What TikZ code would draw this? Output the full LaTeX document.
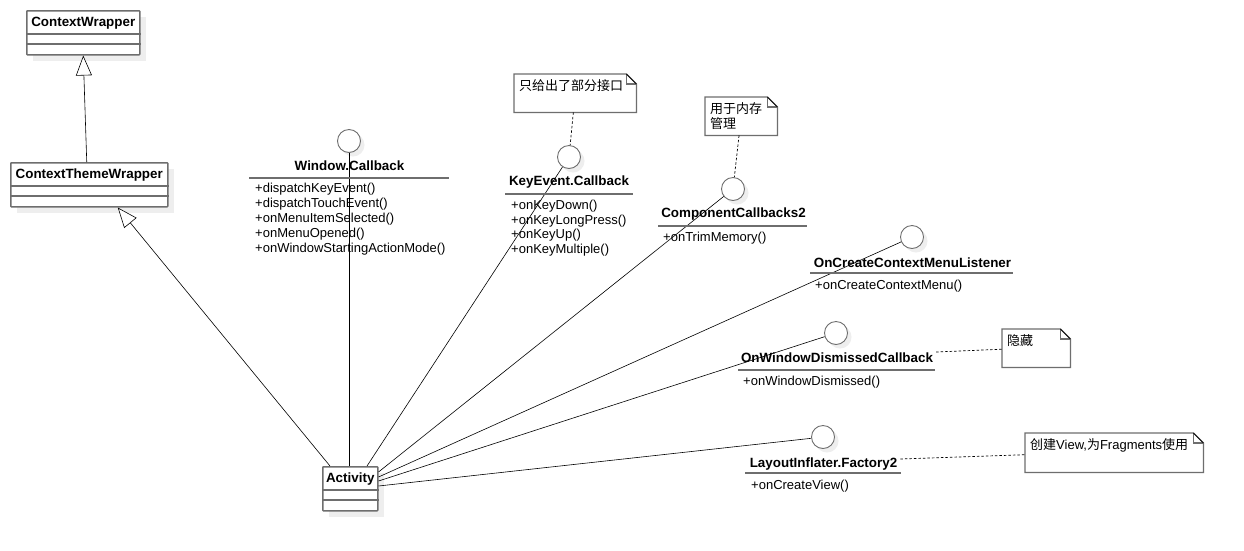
\documentclass[tikz,border=0pt]{standalone}
\usepackage{fontspec}
\setmainfont{Liberation Sans}
\newfontfamily\cjk{Noto Sans CJK SC}
\usetikzlibrary{arrows.meta}
\definecolor{boxgray}{HTML}{6E6E6E}
\definecolor{shadegray}{HTML}{EEEEEE}
\tikzset{
  classbox/.style={draw=boxgray, line width=1.5pt, fill=white, inner sep=0pt, rounded corners=0.6pt},
  boxline/.style={draw=boxgray, line width=1.5pt},
  titlef/.style={font=\fontsize{13.4}{15}\selectfont\bfseries, inner sep=0pt, yshift=-1pt},
  methodf/.style={font=\fontsize{13}{15}\selectfont, inner sep=0pt, anchor=west, yshift=-1.5pt},
  ulinef/.style={draw=boxgray, line width=1.6pt},
  iface/.style={circle, draw=boxgray, line width=0.9pt, fill=white, minimum size=23pt, inner sep=0pt},
  conn/.style={draw=black, line width=0.6pt},
  inherit/.style={draw=black, line width=0.6pt, -{Triangle[open, length=20pt, width=16pt, fill=white]}},
  notec/.style={draw=black, line width=0.7pt, dash pattern=on 2.5pt off 2pt},
  noteout/.style={draw=boxgray, line width=1.2pt, fill=white},
  notetext/.style={font=\fontsize{13}{16}\selectfont, inner sep=0pt, anchor=north west, align=left},
}
\newcommand\umlclass[6]{%
  \fill[shadegray] (#2+7,#3+7) rectangle ++(#4,#5);
  \node[classbox, minimum width=#4pt, minimum height=#5pt, anchor=north west] (#1) at (#2,#3) {};
  \draw[boxline] ([yshift=-24pt]#1.north west) -- ([yshift=-24pt]#1.north east);
  \draw[boxline] ([yshift=-34pt]#1.north west) -- ([yshift=-34pt]#1.north east);
  \node[titlef] (#1T) at ([yshift=-12pt]#1.north) {#6};
}
\newcommand\umliface[3]{%
  \fill[shadegray] (#2+4,#3+4) circle (11.5pt);
  \node[iface] (#1) at (#2,#3) {};
}
\newcommand\umlnote[6]{%
  \node[inner sep=0pt, minimum width=#4pt-#2pt, minimum height=#5pt-#3pt, anchor=north west] (#1) at (#2,#3) {};
  \path[noteout] (#1.north west) -- ([xshift=-10pt]#1.north east) -- ([yshift=-10pt]#1.north east) -- (#1.south east) -- (#1.south west) -- cycle;
  \draw[boxgray, line width=1.2pt] ([xshift=-10pt]#1.north east) -- ([xshift=-10pt,yshift=-10pt]#1.north east) -- ([yshift=-10pt]#1.north east);
  \draw[black, line width=0.7pt] ([xshift=-10pt]#1.north east) -- ([yshift=-10pt]#1.north east);
  \node[notetext] (#1X) at ([xshift=5pt,yshift=-5pt]#1.north west) {#6};
}
\begin{document}
\begin{tikzpicture}[x=1pt,y=-1pt]
\useasboundingbox (0,0) rectangle (1244,550);
\fill[white] (0,0) rectangle (1244,550);

% classes
\umlclass{cw}{26}{10}{113}{44}{ContextWrapper}
\umlclass{ctw}{10}{162}{157}{44}{ContextThemeWrapper}
\umlclass{act}{322}{466}{55}{44}{Activity}

% interfaces (circles)
\umliface{wc}{349}{141}
\umliface{ke}{569}{157}
\umliface{cc}{733}{189}
\umliface{occ}{912}{237}
\umliface{owd}{836}{333}
\umliface{lif}{823}{437}

% notes
\umlnote{n1}{514}{74}{636}{112}{\cjk 只给出了部分接口}
\umlnote{n2}{705}{97}{777}{135}{\cjk 用于内存\\[-1pt]\cjk 管理}
\umlnote{n3}{1002}{329}{1070}{367}{\cjk 隐藏}
\umlnote{n4}{1025}{433}{1203}{472}{{\cjk 创建}View,{\cjk 为}Fragments{\cjk 使用}}

% inheritance
\coordinate (ctwtop) at ([xshift=-2.5pt]ctw.north);
\coordinate (actl) at ([xshift=8pt]act.north west);
\coordinate (ctwbot) at ([xshift=28.5pt]ctw.south);
\draw[inherit] (ctwtop) -- (cw.south);
\draw[inherit] (actl) -- (ctwbot);

% realization lines from Activity
\coordinate (a1) at ([xshift=27pt]act.north west);
\coordinate (a2) at ([xshift=45pt]act.north west);
\coordinate (a3) at ([yshift=-6pt]act.north east);
\coordinate (a4) at ([yshift=-11pt]act.north east);
\coordinate (a5) at ([yshift=-15pt]act.north east);
\coordinate (a6) at ([yshift=-20pt]act.north east);
\draw[conn] (a1) -- (wc);
\draw[conn] (a2) -- (ke);
\draw[conn] (a3) -- (cc);
\draw[conn] (a4) -- (occ);
\draw[conn] (a5) -- (owd);
\draw[conn] (a6) -- (lif);

% Window.Callback
\node[titlef] (wcT) at (349.5,165) {Window.Callback};
\draw[ulinef] (249,178) -- (449,178);
\node[methodf] (wcm1) at (255,188) {+dispatchKeyEvent()};
\node[methodf] (wcm2) at (255,203) {+dispatchTouchEvent()};
\node[methodf] (wcm3) at (255,218) {+onMenuItemSelected()};
\node[methodf] (wcm4) at (255,233) {+onMenuOpened()};
\node[methodf] (wcm5) at (255,248) {+onWindowStartingActionMode()};

% KeyEvent.Callback
\node[titlef] (keT) at (569,181) {KeyEvent.Callback};
\draw[ulinef] (505,194) -- (633,194);
\node[methodf] (kem1) at (511,205) {+onKeyDown()};
\node[methodf] (kem2) at (511,220) {+onKeyLongPress()};
\node[methodf] (kem3) at (511,234) {+onKeyUp()};
\node[methodf] (kem4) at (511,249) {+onKeyMultiple()};

% ComponentCallbacks2
\node[titlef] (ccT) at (733.5,213) {ComponentCallbacks2};
\draw[ulinef] (658,226) -- (807,226);
\node[methodf] (ccm1) at (663,237) {+onTrimMemory()};

% OnCreateContextMenuListener
\node[titlef] (occT) at (912.5,262) {OnCreateContextMenuListener};
\draw[ulinef] (810,273) -- (1013,273);
\node[methodf] (occm1) at (815,285) {+onCreateContextMenu()};

% OnWindowDismissedCallback
\node[titlef] (owdT) at (837,357) {OnWindowDismissedCallback};
\draw[ulinef] (738,370) -- (935,370);
\node[methodf] (owdm1) at (743,381) {+onWindowDismissed()};

% LayoutInflater.Factory2
\node[titlef] (lifT) at (823.5,463) {LayoutInflater.Factory2};
\draw[ulinef] (745,473) -- (901,473);
\node[methodf] (lifm1) at (751,485) {+onCreateView()};

% note connectors
\draw[notec] (n1) -- (ke);
\draw[notec] (n2) -- (cc);
\draw[notec] ([xshift=3pt,yshift=6pt]owdT.east) -- ([yshift=-1pt]n3.west);
\draw[notec] ([xshift=3pt,yshift=5pt]lifT.east) -- ([yshift=-2pt]n4.west);
\end{tikzpicture}
\end{document}
